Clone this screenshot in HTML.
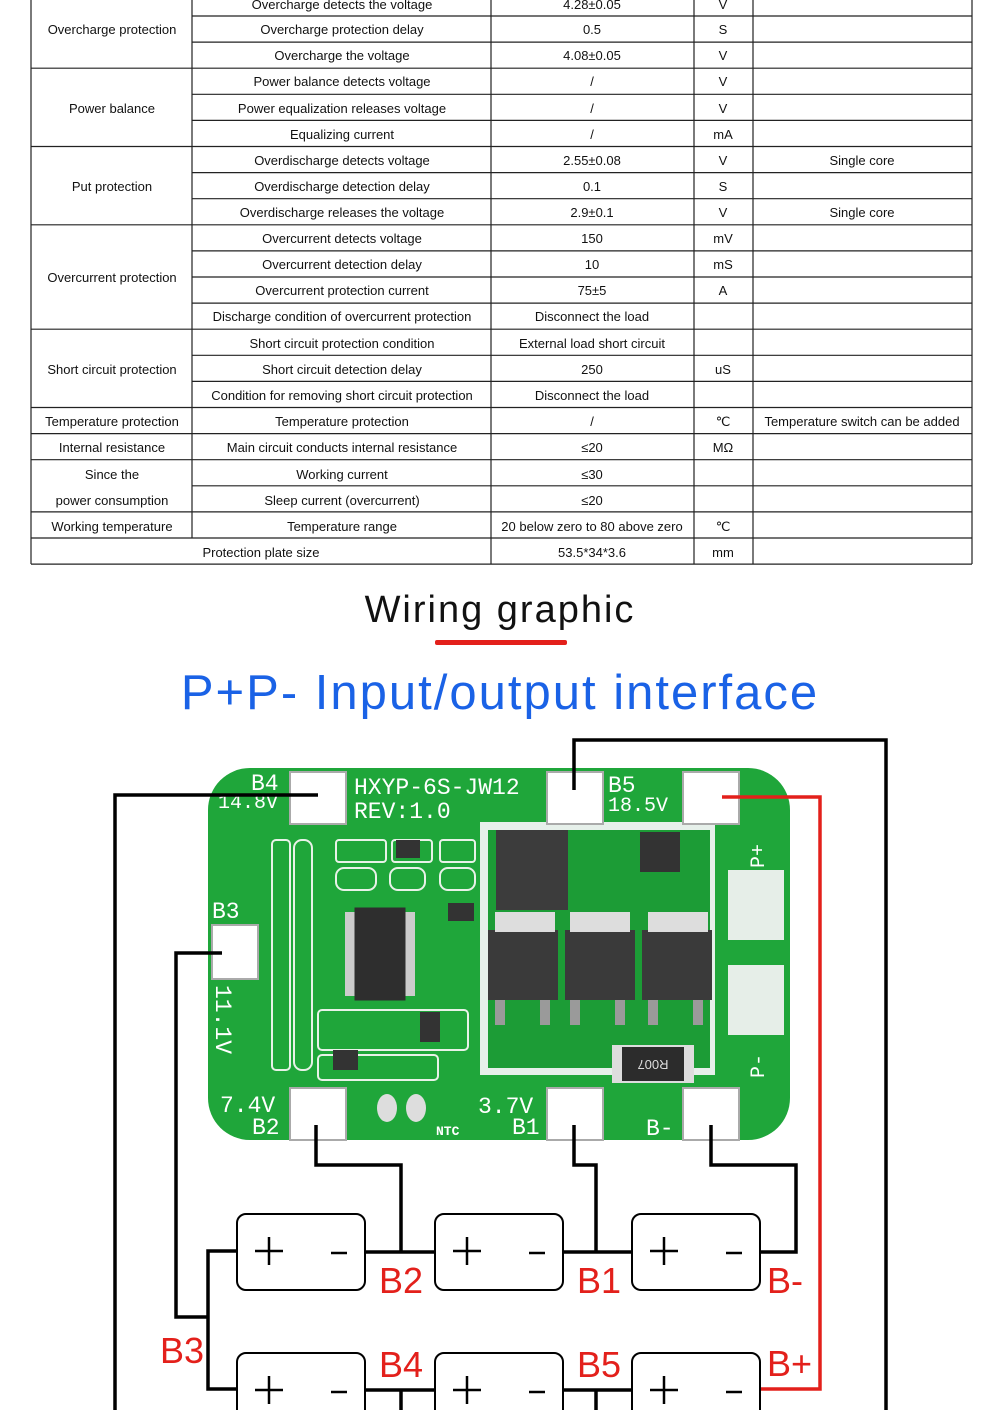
<!DOCTYPE html>
<html><head><meta charset="utf-8"><style>
html,body{margin:0;padding:0;background:#fff}
svg{display:block}
.t{font-family:"Liberation Sans",sans-serif;font-size:13px;fill:#111;text-anchor:middle}
.r{font-family:"Liberation Sans",sans-serif;font-size:36px;fill:#e3201b}
.w{font-family:"Liberation Mono",monospace;fill:#fff}
</style></head><body>
<svg width="1000" height="1410" viewBox="0 0 1000 1410" xmlns="http://www.w3.org/2000/svg">
<g stroke="#222" stroke-width="1.2">
<line x1="31" y1="0" x2="31" y2="564"/><line x1="491" y1="0" x2="491" y2="564"/><line x1="694" y1="0" x2="694" y2="564"/><line x1="753" y1="0" x2="753" y2="564"/><line x1="972" y1="0" x2="972" y2="564"/><line x1="192" y1="0" x2="192" y2="538"/>
<line x1="192" y1="16" x2="972" y2="16"/><line x1="192" y1="42.1" x2="972" y2="42.1"/><line x1="31" y1="68.2" x2="972" y2="68.2"/>
<line x1="192" y1="94.3" x2="972" y2="94.3"/><line x1="192" y1="120.4" x2="972" y2="120.4"/><line x1="31" y1="146.5" x2="972" y2="146.5"/>
<line x1="192" y1="172.6" x2="972" y2="172.6"/><line x1="192" y1="198.7" x2="972" y2="198.7"/><line x1="31" y1="224.8" x2="972" y2="224.8"/>
<line x1="192" y1="250.9" x2="972" y2="250.9"/><line x1="192" y1="277" x2="972" y2="277"/><line x1="192" y1="303.1" x2="972" y2="303.1"/><line x1="31" y1="329.2" x2="972" y2="329.2"/>
<line x1="192" y1="355.3" x2="972" y2="355.3"/><line x1="192" y1="381.4" x2="972" y2="381.4"/><line x1="31" y1="407.5" x2="972" y2="407.5"/>
<line x1="31" y1="433.6" x2="972" y2="433.6"/><line x1="31" y1="459.7" x2="972" y2="459.7"/><line x1="192" y1="485.8" x2="972" y2="485.8"/>
<line x1="31" y1="511.9" x2="972" y2="511.9"/><line x1="31" y1="538" x2="972" y2="538"/><line x1="31" y1="564.1" x2="972" y2="564.1"/>
</g>
<g class="t">
<text x="112" y="34">Overcharge protection</text>
<text x="112" y="113">Power balance</text>
<text x="112" y="191">Put protection</text>
<text x="112" y="282">Overcurrent protection</text>
<text x="112" y="374">Short circuit protection</text>
<text x="112" y="426">Temperature protection</text>
<text x="112" y="452">Internal resistance</text>
<text x="112" y="479">Since the</text>
<text x="112" y="505">power consumption</text>
<text x="112" y="531">Working temperature</text>
<text x="342" y="9">Overcharge detects the voltage</text><text x="592" y="9">4.28±0.05</text><text x="723" y="9">V</text>
<text x="342" y="34">Overcharge protection delay</text><text x="592" y="34">0.5</text><text x="723" y="34">S</text>
<text x="342" y="60">Overcharge the voltage</text><text x="592" y="60">4.08±0.05</text><text x="723" y="60">V</text>
<text x="342" y="86">Power balance detects voltage</text><text x="592" y="86">/</text><text x="723" y="86">V</text>
<text x="342" y="113">Power equalization releases voltage</text><text x="592" y="113">/</text><text x="723" y="113">V</text>
<text x="342" y="139">Equalizing current</text><text x="592" y="139">/</text><text x="723" y="139">mA</text>
<text x="342" y="165">Overdischarge detects voltage</text><text x="592" y="165">2.55±0.08</text><text x="723" y="165">V</text><text x="862" y="165">Single core</text>
<text x="342" y="191">Overdischarge detection delay</text><text x="592" y="191">0.1</text><text x="723" y="191">S</text>
<text x="342" y="217">Overdischarge releases the voltage</text><text x="592" y="217">2.9±0.1</text><text x="723" y="217">V</text><text x="862" y="217">Single core</text>
<text x="342" y="243">Overcurrent detects voltage</text><text x="592" y="243">150</text><text x="723" y="243">mV</text>
<text x="342" y="269">Overcurrent detection delay</text><text x="592" y="269">10</text><text x="723" y="269">mS</text>
<text x="342" y="295">Overcurrent protection current</text><text x="592" y="295">75±5</text><text x="723" y="295">A</text>
<text x="342" y="321">Discharge condition of overcurrent protection</text><text x="592" y="321">Disconnect the load</text>
<text x="342" y="348">Short circuit protection condition</text><text x="592" y="348">External load short circuit</text>
<text x="342" y="374">Short circuit detection delay</text><text x="592" y="374">250</text><text x="723" y="374">uS</text>
<text x="342" y="400">Condition for removing short circuit protection</text><text x="592" y="400">Disconnect the load</text>
<text x="342" y="426">Temperature protection</text><text x="592" y="426">/</text><text x="723" y="426">℃</text><text x="862" y="426">Temperature switch can be added</text>
<text x="342" y="452">Main circuit conducts internal resistance</text><text x="592" y="452">≤20</text><text x="723" y="452">MΩ</text>
<text x="342" y="479">Working current</text><text x="592" y="479">≤30</text>
<text x="342" y="505">Sleep current (overcurrent)</text><text x="592" y="505">≤20</text>
<text x="342" y="531">Temperature range</text><text x="592" y="531">20 below zero to 80 above zero</text><text x="723" y="531">℃</text>
<text x="261" y="557">Protection plate size</text><text x="592" y="557">53.5*34*3.6</text><text x="723" y="557">mm</text>
</g>
<text x="500" y="622" text-anchor="middle" font-family="Liberation Sans,sans-serif" font-size="38" letter-spacing="2" fill="#111">Wiring graphic</text>
<rect x="435" y="640" width="132" height="5" rx="2" fill="#e3201b"/>
<text x="500" y="709" text-anchor="middle" font-family="Liberation Sans,sans-serif" font-size="49" letter-spacing="2" fill="#1a62e6">P+P- Input/output interface</text>
<!-- PCB -->
<rect x="208" y="768" width="582" height="372" rx="42" fill="#1fa63a"/>
<rect x="480" y="822" width="235" height="253" fill="#e6f0ea"/>
<rect x="488" y="830" width="222" height="238" fill="#1c9c36"/>
<rect x="728" y="870" width="56" height="70" fill="#e6eee8"/><rect x="728" y="965" width="56" height="70" fill="#e6eee8"/>
<rect x="496" y="830" width="72" height="80" fill="#3c3c3c"/><rect x="640" y="832" width="40" height="40" fill="#333"/>
<rect x="488" y="930" width="70" height="70" fill="#3a3a3a"/><rect x="565" y="930" width="70" height="70" fill="#3a3a3a"/><rect x="642" y="930" width="70" height="70" fill="#3a3a3a"/>
<rect x="495" y="912" width="60" height="20" fill="#ddd"/><rect x="570" y="912" width="60" height="20" fill="#ddd"/><rect x="648" y="912" width="60" height="20" fill="#ddd"/>
<g fill="#9a9a9a"><rect x="495" y="1000" width="10" height="25"/><rect x="540" y="1000" width="10" height="25"/><rect x="570" y="1000" width="10" height="25"/><rect x="615" y="1000" width="10" height="25"/><rect x="648" y="1000" width="10" height="25"/><rect x="693" y="1000" width="10" height="25"/></g>
<rect x="612" y="1045" width="82" height="38" fill="#ddd"/><rect x="622" y="1047" width="62" height="34" fill="#2c2c2c"/>
<text x="653" y="1070" text-anchor="middle" font-family="Liberation Sans,sans-serif" font-size="13" fill="#ddd" transform="rotate(180 653 1065)">R007</text>
<g fill="none" stroke="#e8f2e8" stroke-width="2">
<rect x="272" y="840" width="18" height="230" rx="4"/><rect x="294" y="840" width="18" height="230" rx="8"/>
<rect x="336" y="840" width="50" height="22" rx="3"/><rect x="392" y="840" width="40" height="22" rx="3"/><rect x="440" y="840" width="35" height="22" rx="3"/>
<rect x="336" y="868" width="40" height="22" rx="8"/><rect x="390" y="868" width="35" height="22" rx="8"/><rect x="440" y="868" width="35" height="22" rx="8"/>
<rect x="318" y="1010" width="150" height="40" rx="4"/><rect x="318" y="1055" width="120" height="25" rx="4"/>
</g>
<rect x="355" y="908" width="50" height="92" fill="#2e2e2e"/>
<g fill="#ccc"><rect x="345" y="912" width="10" height="84"/><rect x="405" y="912" width="10" height="84"/></g>
<rect x="355" y="908" width="50" height="92" fill="none" stroke="#2e2e2e"/>
<g fill="#333"><rect x="448" y="903" width="26" height="18"/><rect x="420" y="1012" width="20" height="30"/><rect x="333" y="1050" width="25" height="20"/><rect x="396" y="840" width="24" height="18"/></g>
<g fill="#fff" stroke="#aaa" stroke-width="2">
<rect x="290" y="772" width="56" height="52"/><rect x="547" y="772" width="56" height="52"/><rect x="683" y="772" width="56" height="52"/>
<rect x="212" y="925" width="46" height="54"/>
<rect x="290" y="1088" width="56" height="52"/><rect x="547" y="1088" width="56" height="52"/><rect x="683" y="1088" width="56" height="52"/>
</g>
<g fill="#ddd"><ellipse cx="387" cy="1108" rx="10" ry="14"/><ellipse cx="416" cy="1108" rx="10" ry="14"/></g>
<g class="w">
<text x="354" y="794" font-size="23">HXYP-6S-JW12</text><text x="354" y="818" font-size="23">REV:1.0</text>
<text x="251" y="790" font-size="23">B4</text><text x="218" y="808" font-size="20">14.8V</text>
<text x="608" y="792" font-size="23">B5</text><text x="608" y="811" font-size="20">18.5V</text>
<text x="212" y="918" font-size="23">B3</text>
<text x="220" y="1112" font-size="23">7.4V</text><text x="252" y="1134" font-size="23">B2</text>
<text x="478" y="1113" font-size="23">3.7V</text><text x="512" y="1134" font-size="23">B1</text>
<text x="646" y="1135" font-size="23">B-</text><text x="436" y="1135" font-size="13" font-weight="bold">NTC</text>
<text transform="translate(216,985) rotate(90)" font-size="23">11.1V</text>
<text transform="translate(764,868) rotate(-90)" font-size="20">P+</text>
<text transform="translate(764,1078) rotate(-90)" font-size="20">P-</text>
</g>
<!-- wires -->
<g fill="none" stroke="#000" stroke-width="3.5">
<polyline points="574,790 574,740 886,740 886,1410"/>
<polyline points="318,795 115,795 115,1410"/>
<polyline points="222,953 176,953 176,1317 208,1317"/>
<polyline points="237,1251 208,1251 208,1389 237,1389"/>
<polyline points="316,1125 316,1165 401,1165 401,1252"/>
<polyline points="574,1125 574,1165 596,1165 596,1252"/>
<polyline points="711,1125 711,1165 796,1165 796,1252 760,1252"/>
<line x1="365" y1="1252" x2="435" y2="1252"/><line x1="563" y1="1252" x2="632" y2="1252"/>
<line x1="365" y1="1390" x2="435" y2="1390"/><line x1="563" y1="1390" x2="632" y2="1390"/>
<line x1="401" y1="1390" x2="401" y2="1410"/><line x1="596" y1="1390" x2="596" y2="1410"/>
</g>
<polyline points="722,797 820,797 820,1389 760,1389" fill="none" stroke="#e3201b" stroke-width="3.5"/>
<g fill="#fff" stroke="#000" stroke-width="2">
<rect x="237" y="1214" width="128" height="76" rx="9"/><rect x="435" y="1214" width="128" height="76" rx="9"/><rect x="632" y="1214" width="128" height="76" rx="9"/>
<rect x="237" y="1353" width="128" height="76" rx="9"/><rect x="435" y="1353" width="128" height="76" rx="9"/><rect x="632" y="1353" width="128" height="76" rx="9"/>
</g>
<g stroke="#000" stroke-width="2.5">
<line x1="255" y1="1251" x2="283" y2="1251"/><line x1="269" y1="1237" x2="269" y2="1265"/><line x1="331" y1="1253" x2="347" y2="1253"/>
<line x1="453" y1="1251" x2="481" y2="1251"/><line x1="467" y1="1237" x2="467" y2="1265"/><line x1="529" y1="1253" x2="545" y2="1253"/>
<line x1="650" y1="1251" x2="678" y2="1251"/><line x1="664" y1="1237" x2="664" y2="1265"/><line x1="726" y1="1253" x2="742" y2="1253"/>
<line x1="255" y1="1390" x2="283" y2="1390"/><line x1="269" y1="1376" x2="269" y2="1404"/><line x1="331" y1="1392" x2="347" y2="1392"/>
<line x1="453" y1="1390" x2="481" y2="1390"/><line x1="467" y1="1376" x2="467" y2="1404"/><line x1="529" y1="1392" x2="545" y2="1392"/>
<line x1="650" y1="1390" x2="678" y2="1390"/><line x1="664" y1="1376" x2="664" y2="1404"/><line x1="726" y1="1392" x2="742" y2="1392"/>
</g>
<text class="r" x="379" y="1293">B2</text><text class="r" x="577" y="1293">B1</text><text class="r" x="767" y="1293">B-</text>
<text class="r" x="160" y="1363">B3</text><text class="r" x="379" y="1377">B4</text><text class="r" x="577" y="1377">B5</text><text class="r" x="767" y="1376">B+</text>
</svg>
</body></html>
